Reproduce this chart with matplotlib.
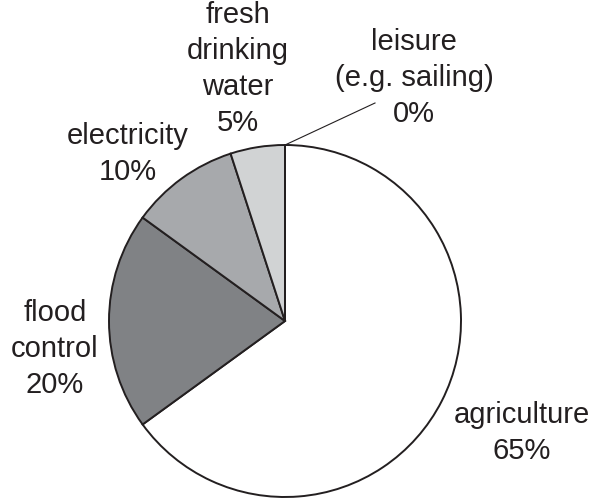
import numpy as np
import matplotlib
matplotlib.use("Agg")
import matplotlib.pyplot as plt

plt.rcParams["font.family"] = ["Liberation Sans", "DejaVu Sans"]

W, H = 603, 499

categories = ["agriculture", "flood\ncontrol", "electricity", "fresh\ndrinking\nwater", "leisure\n(e.g. sailing)"]
shares = [65, 20, 10, 5, 0]
colors = ["#ffffff", "#808285", "#a7a9ac", "#d1d3d4", "#ffffff"]

# label anchor: (x, last-line baseline) in pixels from top-left
label_pos = [(522, 459), (55, 393), (128, 180), (238, 131), (414, 122)]

ink = "#231f20"
cx, cy, r = 285, 321, 176

fig = plt.figure(figsize=(W / 100, H / 100), dpi=100)
ax = fig.add_axes([0, 0, 1, 1])
ax.pie(shares, colors=colors, startangle=90, counterclock=False,
       center=(cx, H - cy), radius=r, frame=True,
       wedgeprops=dict(edgecolor=ink, linewidth=1.4))
ax.set_xlim(0, W)
ax.set_ylim(0, H)
ax.set_aspect("equal")
ax.axis("off")

for name, val, (x, y) in zip(categories, shares, label_pos):
    ax.text(x, H - y, f"{name}\n{val}%", ha="center", va="baseline",
            fontsize=21, color=ink, linespacing=1.36, multialignment="center")

# leader line for the empty slice
ang = np.deg2rad(90)
ax.plot([cx + r * np.cos(ang), 375], [H - cy + r * np.sin(ang), H - 103],
        color=ink, lw=0.8)

fig.savefig("out.png", dpi=100)
